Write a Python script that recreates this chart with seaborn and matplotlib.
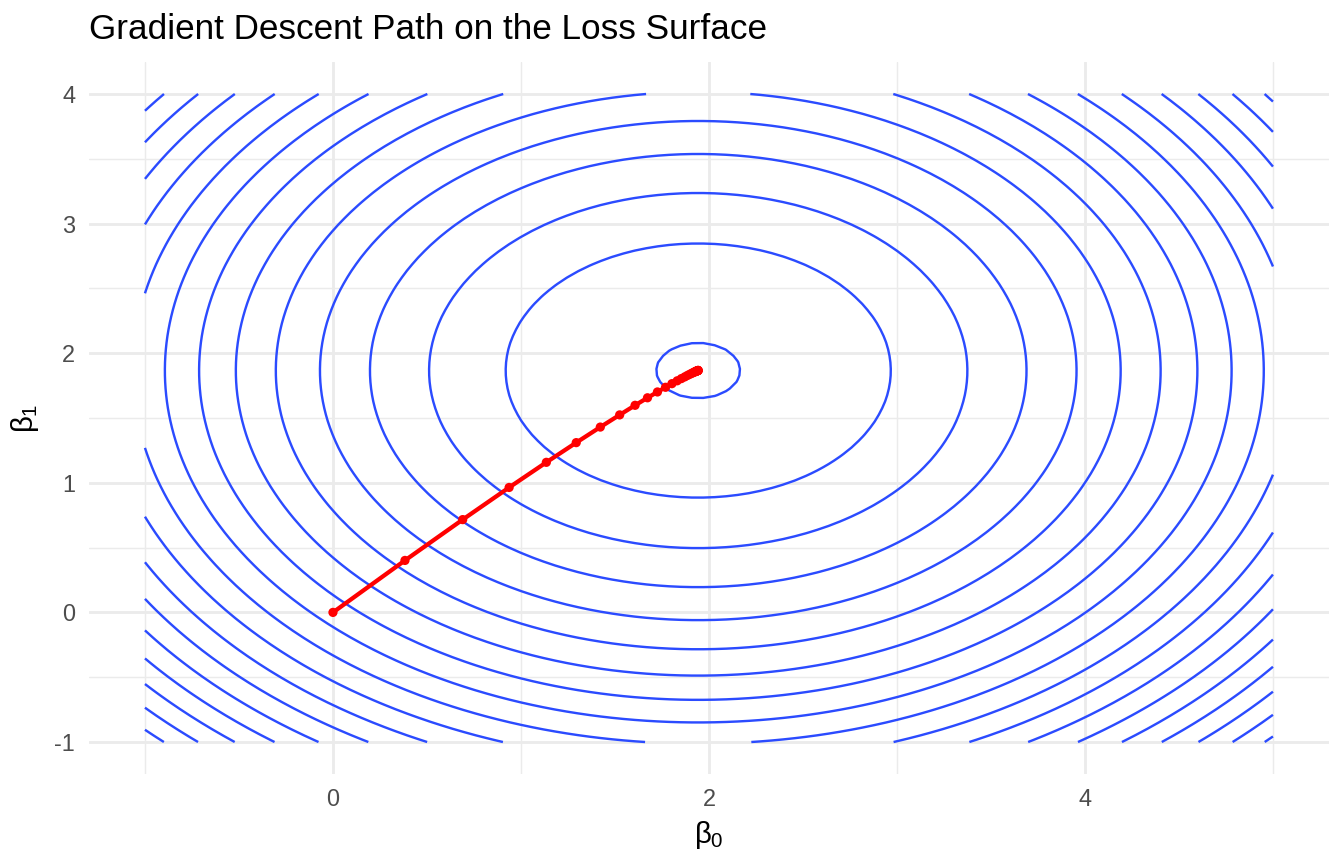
import numpy as np
import pandas as pd
import seaborn as sns
import matplotlib.pyplot as plt

# loss surface: centre, curvature ratio and contour levels
b0_center = 1.943
b1_center = 1.866
b1_curvature = 1.092
contour_levels = [0.05, 1.05, 2.05, 3.05, 4.05, 5.05, 6.05, 7.05, 8.05, 9.05,
                  10.05, 11.05, 12.05, 13.05, 14.05, 15.05, 16.05, 17.05, 18.05]

# gradient descent iterates
b0_path = [0.000, 0.383, 0.690, 0.937, 1.135, 1.294, 1.422, 1.525, 1.607, 1.673,
           1.726, 1.769, 1.803, 1.831, 1.853, 1.871, 1.885, 1.896, 1.906, 1.913,
           1.919, 1.924, 1.927, 1.931, 1.933, 1.935, 1.937, 1.938, 1.939, 1.940,
           1.941, 1.942, 1.942, 1.943]
b1_path = [0.000, 0.401, 0.716, 0.964, 1.158, 1.310, 1.430, 1.524, 1.598, 1.656,
           1.701, 1.737, 1.765, 1.787, 1.804, 1.817, 1.828, 1.836, 1.843, 1.848,
           1.852, 1.855, 1.858, 1.860, 1.861, 1.863, 1.864, 1.864, 1.865, 1.866,
           1.866, 1.866, 1.867, 1.867]

x_major = [0, 2, 4]
x_minor = [-1, 1, 3, 5]
y_major = [-1, 0, 1, 2, 3, 4]
y_minor = [-0.5, 0.5, 1.5, 2.5, 3.5]

sns.set_theme(style="whitegrid")
plt.rcParams['font.family'] = ['Liberation Sans', 'DejaVu Sans']
plt.rcParams['mathtext.fontset'] = 'custom'
plt.rcParams['mathtext.rm'] = 'Liberation Sans'
plt.rcParams['mathtext.it'] = 'Liberation Sans'
plt.rcParams['axes.unicode_minus'] = False

fig, ax = plt.subplots(figsize=(7, 4.5), dpi=192)
fig.subplots_adjust(left=0.0659, right=0.9891, top=0.9287, bottom=0.1037)

# surface on a coarse grid, like the original
g0 = np.linspace(-1, 5, 100)
g1 = np.linspace(-1, 4, 100)
G0, G1 = np.meshgrid(g0, g1)
loss = (G0 - b0_center) ** 2 + b1_curvature * (G1 - b1_center) ** 2
ax.contour(G0, G1, loss, levels=contour_levels, colors='#2B4BFF', linewidths=0.9, zorder=2)

path = pd.DataFrame({'b0': b0_path, 'b1': b1_path})
sns.lineplot(data=path, x='b0', y='b1', sort=False, estimator=None,
             color='#FF0000', linewidth=1.6, ax=ax, zorder=3)
sns.scatterplot(data=path, x='b0', y='b1', color='#FF0000', s=12,
                edgecolor='none', ax=ax, zorder=4)

ax.set_xlim(-1.3, 5.3)
ax.set_ylim(-1.25, 4.25)
ax.set_xticks(x_major)
ax.set_xticks(x_minor, minor=True)
ax.set_yticks(y_major)
ax.set_yticks(y_minor, minor=True)
ax.grid(which='major', color='#EBEBEB', linewidth=1.07)
ax.grid(which='minor', color='#EBEBEB', linewidth=0.53)
ax.tick_params(which='both', length=0, labelsize=8.8, labelcolor='#4D4D4D', pad=5)
for s in ax.spines.values():
    s.set_visible(False)
ax.set_facecolor('white')

ax.set_xlabel(r'$\beta_0$', fontsize=11, labelpad=3, color='black')
ax.set_ylabel(r'$\beta_1$', fontsize=11, labelpad=5, color='black')
ax.set_title('Gradient Descent Path on the Loss Surface', loc='left',
             fontsize=13.2, pad=8.5, color='black')

plt.savefig('out.png', dpi=192)
